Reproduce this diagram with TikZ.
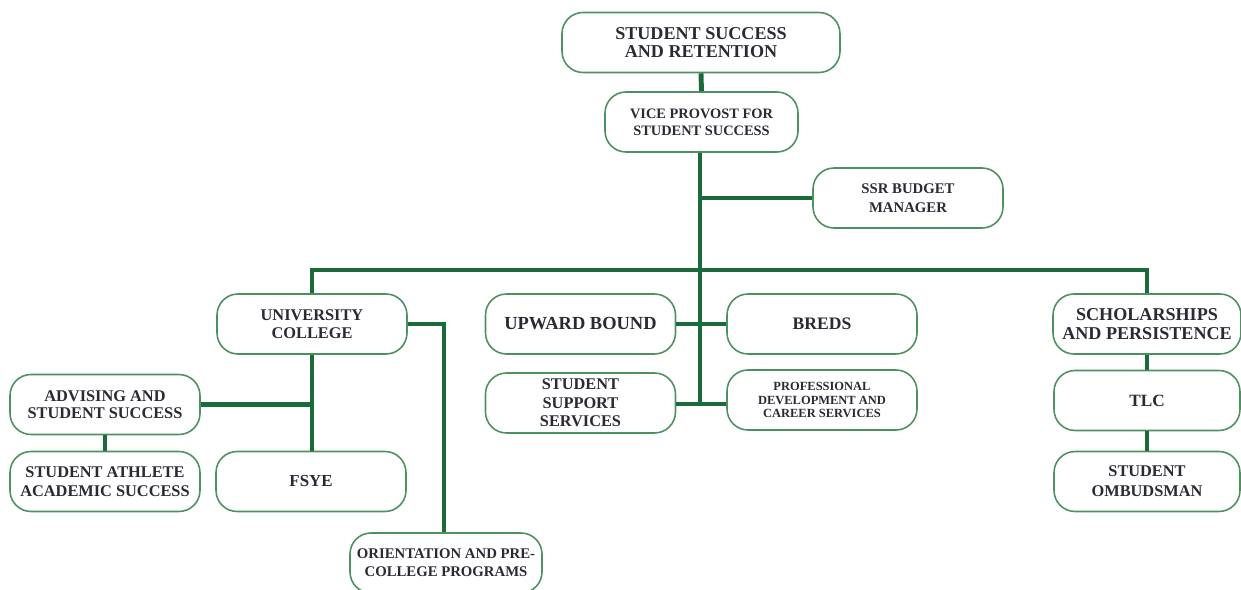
\documentclass[tikz,border=0pt]{standalone}
\usepackage{fontspec}
\setmainfont{Liberation Serif}
\definecolor{linegreen}{HTML}{1B6B3A}
\definecolor{boxgreen}{HTML}{4E9160}
\definecolor{txt}{HTML}{2A2A35}
\begin{document}
\begin{tikzpicture}[x=0.02cm,y=-0.02cm,
  box/.style={draw=boxgreen, line width=0.9pt, rounded corners=0.42cm, fill=white,
    minimum width=3.8cm, minimum height=1.2cm, inner sep=1pt, align=center,
    text=txt, font=\bfseries\fontsize{9.3}{10.6}\selectfont},
  conn/.style={draw=linegreen, line width=2.8pt}]
\useasboundingbox (0,0) rectangle (1241,590);
% nodes
\node[box, minimum width=5.56cm, font=\bfseries\fontsize{10.3}{10}\selectfont] (ssr) at (701,42.5) {STUDENT SUCCESS\\AND RETENTION};
\node[box, minimum width=3.86cm, font=\bfseries\fontsize{8.2}{9.6}\selectfont] (vp) at (701.5,122) {VICE PROVOST FOR\\STUDENT SUCCESS};
\node[box, font=\bfseries\fontsize{8.4}{11}\selectfont] (budget) at (908,198) {SSR BUDGET\\MANAGER};
\node[box, font=\bfseries\fontsize{9.3}{10.2}\selectfont] (uc) at (312,324) {UNIVERSITY\\COLLEGE};
\node[box, font=\bfseries\fontsize{10.5}{11}\selectfont] (ub) at (580.5,324) {UPWARD BOUND};
\node[box, font=\bfseries\fontsize{10}{11}\selectfont] (breds) at (822,324) {BREDS};
\node[box, minimum width=3.76cm, font=\bfseries\fontsize{10.3}{10.8}\selectfont] (sp) at (1147,324) {SCHOLARSHIPS\\AND PERSISTENCE};
\node[box] (sss) at (580.5,403) {STUDENT\\SUPPORT\\SERVICES};
\node[box, font=\bfseries\fontsize{7.1}{7.6}\selectfont] (pd) at (822,400) {PROFESSIONAL\\DEVELOPMENT AND\\CAREER SERVICES};
\node[box, font=\bfseries\fontsize{9.3}{9.8}\selectfont] (adv) at (105,404.5) {ADVISING AND\\STUDENT SUCCESS};
\node[box] (ath) at (105,481.5) {STUDENT ATHLETE\\ACADEMIC SUCCESS};
\node[box, font=\bfseries\fontsize{9.6}{11}\selectfont] (fsye) at (311,481.5) {FSYE};
\node[box, minimum width=3.84cm, font=\bfseries\fontsize{8.4}{10.4}\selectfont] (orient) at (446,563) {ORIENTATION AND PRE-\\COLLEGE PROGRAMS};
\node[box, minimum width=3.72cm, font=\bfseries\fontsize{9.8}{11}\selectfont] (tlc) at (1147,400.5) {TLC};
\node[box, minimum width=3.72cm, font=\bfseries\fontsize{9.3}{11.2}\selectfont] (omb) at (1147,481.5) {STUDENT\\OMBUDSMAN};
% junctions
\coordinate (bus) at (700,270);
\coordinate (trunkend) at (700,404);
% connectors
\draw[conn] (ssr.south) -- (vp.north);
\draw[conn] (vp.south -| bus) -- (trunkend);
\draw[conn] (budget.west) -- (budget.west -| bus);
\draw[conn] (uc.north) |- (bus) -| (sp.north);
\draw[conn] (ub.east) -- (breds.west);
\draw[conn] (sss.east |- trunkend) -- (pd.west |- trunkend);
\draw[conn] (uc.south) -- (fsye.north -| uc.south);
\draw[conn] (adv.east) -- (adv.east -| uc.south);
\draw[conn] (adv.south) -- (ath.north);
\draw[conn] (uc.east) -| ([xshift=-0.04cm]orient.north);
\draw[conn] (sp.south) -- (tlc.north);
\draw[conn] (tlc.south) -- (omb.north);
\end{tikzpicture}
\end{document}
